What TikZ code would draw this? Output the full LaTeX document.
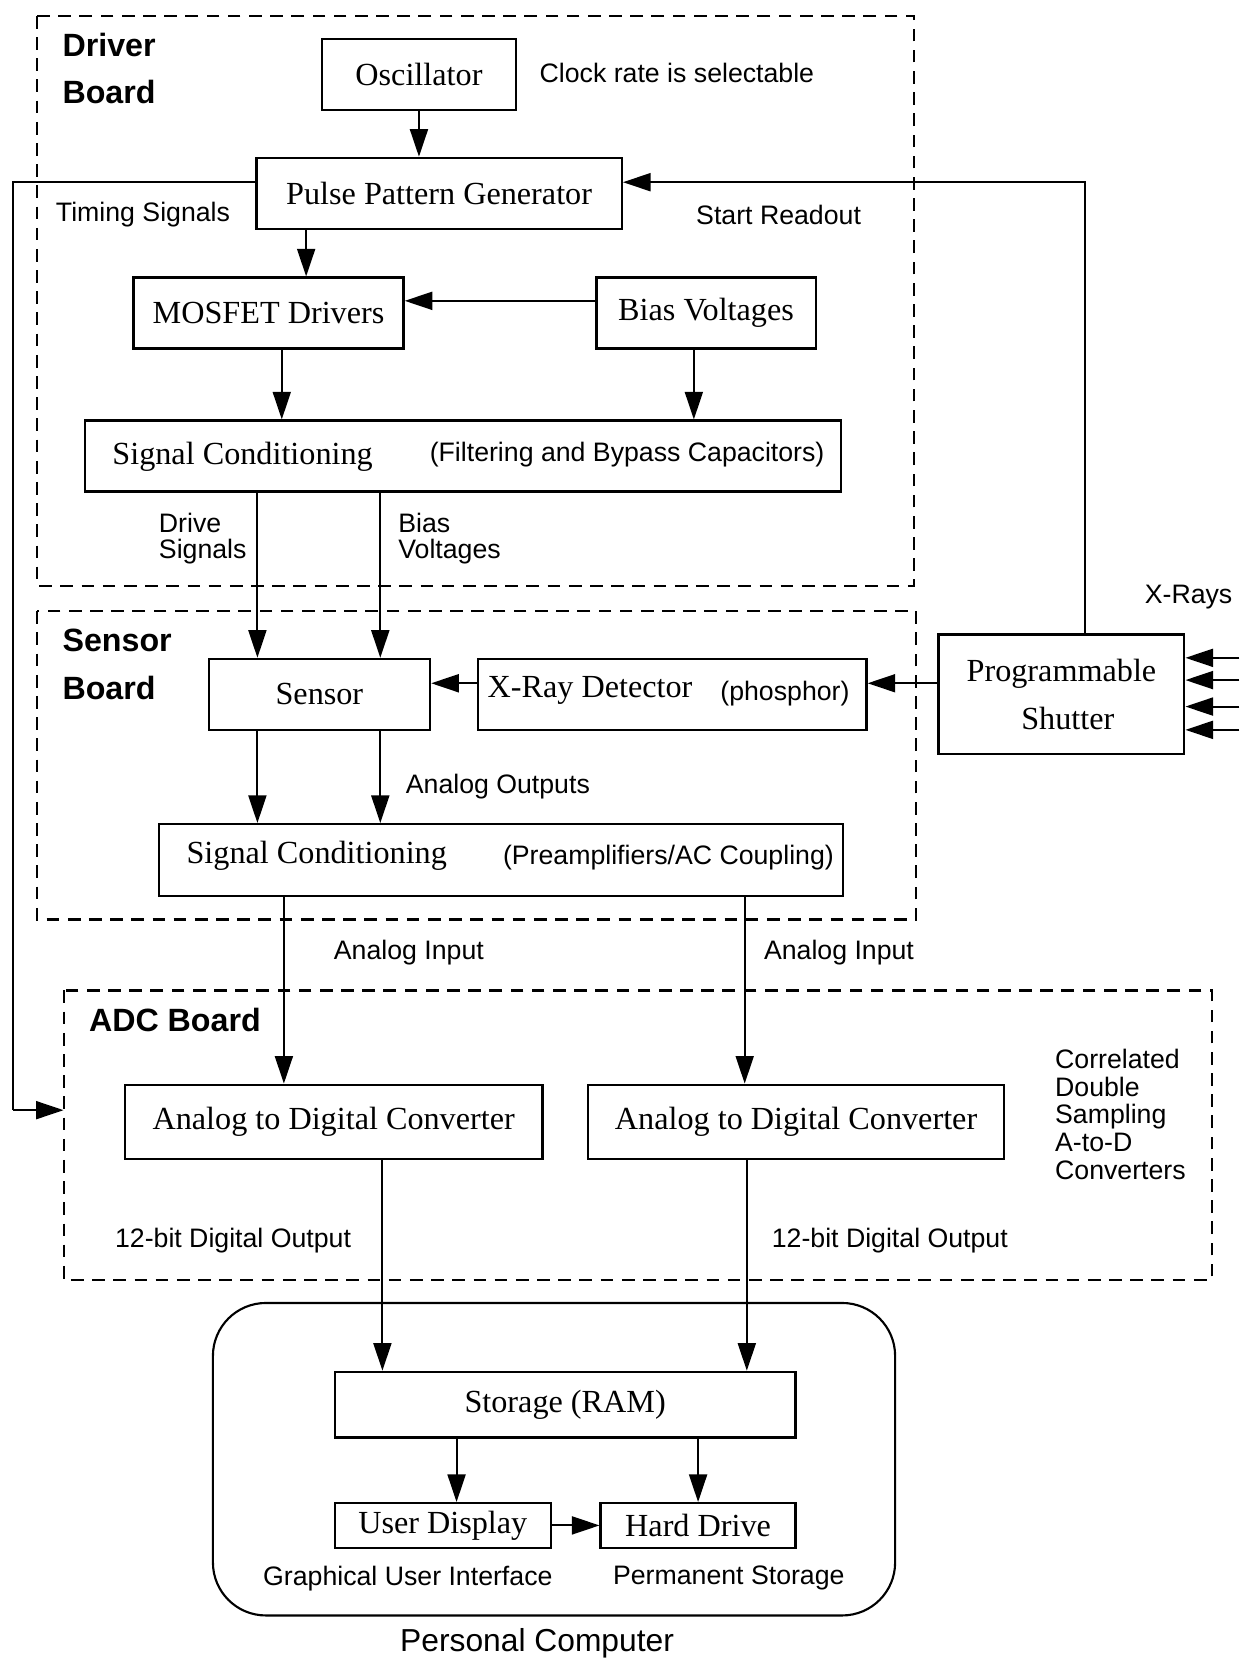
\documentclass[tikz,border=0pt]{standalone}
\usepackage{fontspec}
\setmainfont{Liberation Serif}
\setsansfont{Liberation Sans}
\usetikzlibrary{arrows.meta}
\begin{document}
\begin{tikzpicture}[x=0.5pt,y=-0.5pt,
  serif/.style={font=\fontsize{15.2}{18}\selectfont\rmfamily},
  sans/.style={font=\fontsize{12.6}{12.5}\selectfont\sffamily},
  bsans/.style={font=\fontsize{15.2}{22.5}\selectfont\sffamily\bfseries},
  box/.style={draw, line width=1.1pt, inner sep=0pt, serif, minimum height=33.5pt},
  arr/.style={line width=0.9pt, -{Triangle[length=13pt,width=8.5pt]}},
  ln/.style={line width=0.9pt},
  board/.style={draw, line width=1pt, dash pattern=on 6pt off 4pt}]
\useasboundingbox (0,0) rectangle (1170,1568);

% boards
\draw[board] (35,15) rectangle (863,553);
\draw[board] (35,577) rectangle (865,868);
\draw[board] (60,935) rectangle (1144,1208);
\draw[line width=1pt, rounded corners=25pt] (201,1230) rectangle (845,1525);

\node[bsans, anchor=west, align=left] (lblDriver) at (52,64.5) {Driver\\Board};
\node[bsans, anchor=west, align=left] (lblSensor) at (52,627.5) {Sensor\\Board};
\node[bsans, anchor=west] (lblADC) at (77,963) {ADC Board};

% driver board nodes
\node[box, minimum width=91.5pt] (osc) at (395.5,70.5) {Oscillator};
\node[sans] (clk) at (639,69) {Clock rate is selectable};
\node[box, minimum width=172.5pt] (ppg) at (414.5,182.5) {Pulse Pattern Generator};
\node[sans] (timing) at (135,203) {Timing Signals};
\node[sans] (start) at (735,203) {Start Readout};
\node[box, minimum width=127.5pt] (mos) at (253.5,295.5) {MOSFET Drivers};
\node[box, minimum width=103.5pt] (bias) at (666.5,295.5) {Bias Voltages};
\node[box, minimum width=357pt] (sc1) at (437,430.5) {};
\node[serif] (sc1a) at (229,431) {Signal Conditioning};
\node[sans] (sc1b) at (592,429) {(Filtering and Bypass Capacitors)};
\node[sans, anchor=west, align=left] (drive) at (143,508.5) {Drive\\Signals};
\node[sans, anchor=west, align=left] (biasl) at (369,508.5) {Bias\\Voltages};

% sensor board nodes
\node[box, minimum width=104.5pt] (sensor) at (301.5,655.5) {Sensor};
\node[box, minimum width=183.5pt] (xrd) at (634.5,655.5) {};
\node[serif] (xrda) at (557,652) {X-Ray Detector};
\node[sans] (xrdb) at (741,655) {(phosphor)};
\node[box, minimum width=116pt, minimum height=56.5pt, align=center,
  font=\fontsize{15.2}{22.5}\selectfont\rmfamily] (shut) at (1002,655.5) {Programmable\\\hspace*{6pt}Shutter};
\node[sans] (xrays) at (1122,564) {X-Rays};
\node[sans] (aout) at (470,743) {Analog Outputs};
\node[box, minimum width=323pt, minimum height=34pt] (sc2) at (473,812) {};
\node[serif] (sc2a) at (299,808) {Signal Conditioning};
\node[sans] (sc2b) at (631,810) {(Preamplifiers/AC Coupling)};
\node[sans] (ain1) at (386,899) {Analog Input};
\node[sans] (ain2) at (792,899) {Analog Input};

% ADC board
\node[box, minimum width=197pt, minimum height=35pt] (adc1) at (315,1059) {Analog to Digital Converter};
\node[box, minimum width=196.5pt, minimum height=35pt] (adc2) at (751.5,1059) {Analog to Digital Converter};
\node[sans, anchor=west, align=left, font=\fontsize{12.6}{13}\selectfont\sffamily] (cds) at (989,1052) {Correlated\\Double\\Sampling\\A-to-D\\Converters};
\node[sans] (bit1) at (220,1171) {12-bit Digital Output};
\node[sans] (bit2) at (840,1171) {12-bit Digital Output};

% PC
\node[box, minimum width=217.5pt, minimum height=31pt] (stor) at (533.5,1326) {Storage (RAM)};
\node[box, minimum width=102pt, minimum height=21pt] (ud) at (418,1440) {User Display};
\node[box, minimum width=92pt, minimum height=21pt] (hd) at (659,1440) {Hard Drive};
\node[sans] (gui) at (385,1490) {Graphical User Interface};
\node[sans] (perm) at (688,1490) {Permanent Storage};
\node[font=\fontsize{15}{18}\selectfont\sffamily] (pc) at (507,1551) {Personal Computer};

% connectors
\draw[arr] (osc.south) -- (osc.south |- ppg.north);
\draw[arr] ([xshift=17.75pt]mos.north |- ppg.south) -- ([xshift=17.75pt]mos.north);
\draw[arr] ([yshift=5.75pt]bias.west) -- ([yshift=5.75pt]mos.east);
\draw[arr] ([xshift=6.25pt]mos.south) -- ([xshift=6.25pt]mos.south |- sc1.north);
\draw[arr] ([xshift=-5.75pt]bias.south) -- ([xshift=-5.75pt]bias.south |- sc1.north);
\draw[arr] ([xshift=-29.25pt]sensor.north |- sc1.south) -- ([xshift=-29.25pt]sensor.north);
\draw[arr] ([xshift=28.75pt]sensor.north |- sc1.south) -- ([xshift=28.75pt]sensor.north);
\draw[arr] ([yshift=5.25pt]xrd.west) -- ([yshift=5.25pt]sensor.east);
\draw[arr] ([yshift=5.25pt]shut.west) -- ([yshift=5.25pt]xrd.east);
\draw[arr] ([xshift=-29.25pt]sensor.south) -- ([xshift=-29.25pt]sensor.south |- sc2.north);
\draw[arr] ([xshift=28.75pt]sensor.south) -- ([xshift=28.75pt]sensor.south |- sc2.north);
\draw[arr] ([xshift=11pt]shut.north) |- ([yshift=5.25pt]ppg.east);
\coordinate (tcorner) at (12,1048);
\coordinate (adcin) at (60,1048);
\draw[ln] ([yshift=5.25pt]ppg.west) -| (tcorner);
\draw[arr] (tcorner) -- (adcin);
\draw[arr] ([xshift=-23.5pt]adc1.north |- sc2.south) -- ([xshift=-23.5pt]adc1.north);
\draw[arr] ([xshift=-24.25pt]adc2.north |- sc2.south) -- ([xshift=-24.25pt]adc2.north);
\draw[arr] ([xshift=23pt]adc1.south) -- ([xshift=23pt]adc1.south |- stor.north);
\draw[arr] ([xshift=-23.25pt]adc2.south) -- ([xshift=-23.25pt]adc2.south |- stor.north);
\draw[arr] ([xshift=6.5pt]ud.north |- stor.south) -- ([xshift=6.5pt]ud.north);
\draw[arr] (hd.north |- stor.south) -- (hd.north);
\draw[arr] (ud.east) -- (hd.west);
\foreach \i/\yy in {1/621,2/642,3/667,4/689}{
  \coordinate (xr\i) at (1170,\yy);
  \draw[arr] (xr\i) -- (xr\i -| shut.east);
}
\end{tikzpicture}
\end{document}
